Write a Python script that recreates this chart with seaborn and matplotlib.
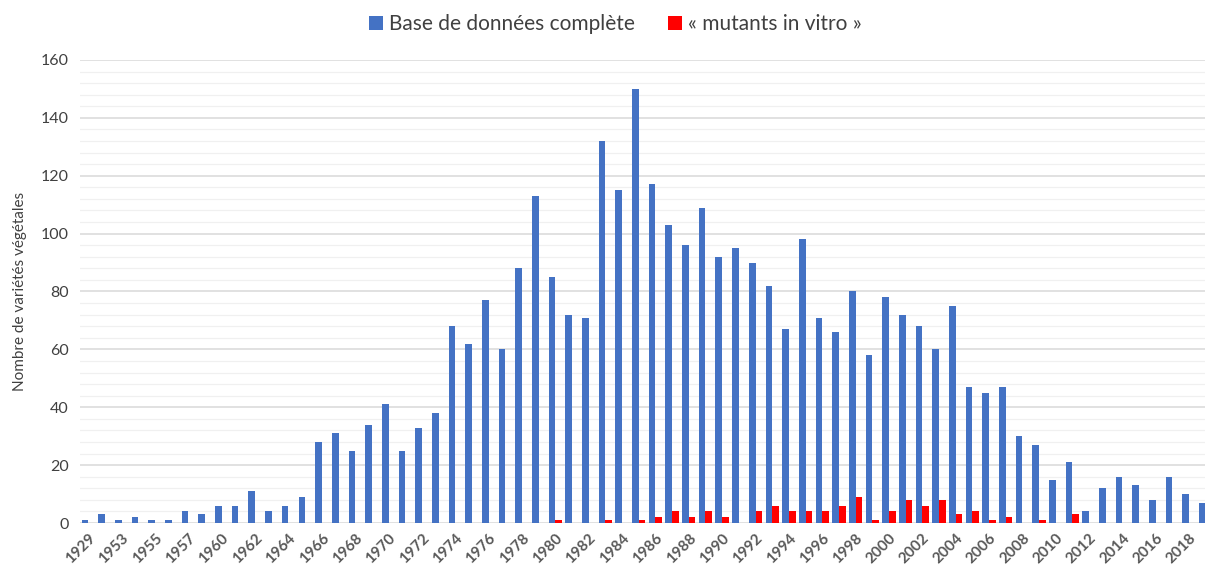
import numpy as np
import pandas as pd
import matplotlib
matplotlib.use("Agg")
import matplotlib.pyplot as plt
from matplotlib.ticker import MultipleLocator
import seaborn as sns

sns.set_theme(style="white")
plt.rcParams["font.family"] = ["Lato", "DejaVu Sans"]

# Years (two unlabeled early categories are guesses; labels shown every other bar)
years = ['1929', '1950', '1953', '1954', '1955', '1956', '1957', '1958',
         '1960', '1961', '1962', '1963', '1964', '1965'] + \
        [str(y) for y in range(1966, 2020)]

# Full database counts
complete = [1, 3, 1, 2, 1, 1, 4, 3, 6, 6, 11, 4, 6, 9,
            28, 31, 25, 34, 41, 25, 33, 38, 68, 62,      # 1966-1975
            77, 60, 88, 113, 85, 72, 71, 132, 115, 150,  # 1976-1985
            117, 103, 96, 109, 92, 95, 90, 82, 67, 98,   # 1986-1995
            71, 66, 80, 58, 78, 72, 68, 60, 75, 47,      # 1996-2005
            45, 47, 30, 27, 15, 21, 4, 12, 16, 13,       # 2006-2015
            8, 16, 10, 7]                                # 2016-2019

# "in vitro" mutants
in_vitro = [0] * 14 + \
           [0, 0, 0, 0, 0, 0, 0, 0, 0, 0,                # 1966-1975
            0, 0, 0, 0, 1, 0, 0, 1, 0, 1,                # 1976-1985
            2, 4, 2, 4, 2, 0, 4, 6, 4, 4,                # 1986-1995
            4, 6, 9, 1, 4, 8, 6, 8, 3, 4,                # 1996-2005
            1, 2, 0, 1, 0, 3, 0, 0, 0, 0,                # 2006-2015
            0, 0, 0, 0]                                  # 2016-2019

series_names = ['Base de données complète', '« mutants in vitro »']
colors = ['#4472C4', '#FF0000']

df = pd.DataFrame({
    'year': years * 2,
    'count': complete + in_vitro,
    'series': [series_names[0]] * len(years) + [series_names[1]] * len(years),
})

fig = plt.figure(figsize=(12.05, 5.69), dpi=100)
ax = fig.add_axes([0.0664, 0.0808, 0.9336, 0.8138])

sns.barplot(data=df, x='year', y='count', hue='series', order=years,
            hue_order=series_names, palette=colors, saturation=1, width=0.8,
            linewidth=0, ax=ax, legend=True)

ax.set_ylim(0, 160)
ax.set_xlim(-0.5, 66.95)
ax.yaxis.set_major_locator(MultipleLocator(20))
ax.yaxis.set_minor_locator(MultipleLocator(4))
ax.grid(which='major', axis='y', color='#d9d9d9', linewidth=1.1)
ax.grid(which='minor', axis='y', color='#f0f0f0', linewidth=0.9)
ax.set_axisbelow(True)
for s in ax.spines.values():
    s.set_visible(False)

ax.set_xticks(range(0, len(years), 2))
ax.set_xticklabels(years[::2], rotation=45, ha='right', rotation_mode='anchor',
                   fontsize=11, fontweight='bold', color='#595959')
ax.tick_params(axis='x', length=0, pad=6)
ax.tick_params(axis='y', which='both', length=0, labelsize=11.5, labelcolor='#404040', pad=8)

ax.set_xlabel('')
ax.set_ylabel('Nombre de variétés végétales', fontsize=11, color='#404040', labelpad=10)

handles, labels = ax.get_legend_handles_labels()
ax.legend_.remove()
fig.legend(handles, labels, loc='upper center', bbox_to_anchor=(0.511, 1.008), ncol=2,
           frameon=False, fontsize=15, handlelength=0.65, handleheight=0.65,
           handletextpad=0.3, columnspacing=1.6, labelcolor='#404040')

fig.savefig('out.png', dpi=100)
